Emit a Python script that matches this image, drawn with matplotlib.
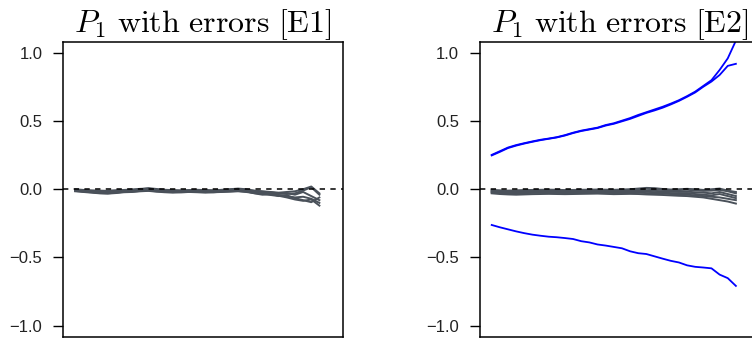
import matplotlib
matplotlib.use("Agg")
import matplotlib.pyplot as plt
import numpy as np

plt.rcParams['font.family'] = ['Liberation Sans', 'DejaVu Sans']
plt.rcParams['mathtext.fontset'] = 'cm'

titles = [r"$P_1\ \mathrm{with\ errors\ [E1]}$", r"$P_1\ \mathrm{with\ errors\ [E2]}$"]
yticks = [-1.0, -0.5, 0.0, 0.5, 1.0]
ytick_labels = ["\u22121.0", "\u22120.5", "0.0", "0.5", "1.0"]

# Panel E1: grey error curves
e1_gray = [
    [-0.005, -0.010, -0.012, -0.015, -0.012, -0.008, -0.005, -0.002, 0.003, 0.005, -0.003, -0.008, -0.010, -0.012, -0.010, -0.008, -0.010, -0.012, -0.008, -0.005, -0.002, -0.005, -0.012, -0.018, -0.022, -0.030, -0.035, -0.030, -0.010, 0.015, -0.040],
    [-0.015, -0.018, -0.022, -0.025, -0.025, -0.022, -0.020, -0.018, -0.012, -0.010, -0.015, -0.018, -0.020, -0.022, -0.020, -0.018, -0.020, -0.022, -0.018, -0.015, -0.012, -0.018, -0.025, -0.030, -0.038, -0.045, -0.052, -0.060, -0.055, -0.070, -0.100],
    [-0.010, -0.015, -0.020, -0.028, -0.030, -0.025, -0.018, -0.012, -0.005, -0.002, -0.008, -0.015, -0.018, -0.015, -0.012, -0.010, -0.015, -0.018, -0.015, -0.010, -0.008, -0.015, -0.030, -0.040, -0.035, -0.048, -0.060, -0.075, -0.085, -0.075, -0.120],
    [-0.008, -0.012, -0.015, -0.020, -0.022, -0.020, -0.015, -0.010, -0.006, -0.004, -0.010, -0.012, -0.014, -0.012, -0.008, -0.006, -0.008, -0.010, -0.008, -0.002, 0.000, -0.008, -0.015, -0.020, -0.028, -0.035, -0.028, -0.040, -0.020, -0.050, -0.080],
    [-0.012, -0.020, -0.025, -0.030, -0.032, -0.028, -0.022, -0.020, -0.015, -0.012, -0.018, -0.022, -0.025, -0.022, -0.020, -0.022, -0.025, -0.022, -0.020, -0.018, -0.015, -0.020, -0.028, -0.035, -0.042, -0.050, -0.045, -0.065, -0.080, -0.095, -0.060],
    [0.000, -0.005, -0.008, -0.010, -0.012, -0.010, -0.008, -0.005, 0.000, 0.008, 0.002, -0.004, -0.006, -0.008, -0.006, -0.004, -0.006, -0.008, -0.004, 0.000, 0.005, 0.000, -0.010, -0.015, -0.020, -0.025, -0.020, -0.015, 0.000, 0.020, -0.030],
]

# Panel E2: grey error curves
e2_gray = [
    [-0.005, -0.008, -0.010, -0.008, -0.006, -0.005, -0.004, -0.003, -0.004, -0.006, -0.005, -0.004, -0.003, -0.002, -0.003, -0.004, -0.002, 0.000, 0.005, 0.010, 0.008, 0.002, -0.002, 0.000, 0.003, 0.000, -0.005, 0.000, 0.005, -0.010, -0.020],
    [-0.015, -0.018, -0.020, -0.018, -0.016, -0.015, -0.014, -0.013, -0.014, -0.016, -0.015, -0.014, -0.013, -0.012, -0.013, -0.014, -0.012, -0.010, -0.008, -0.010, -0.012, -0.015, -0.018, -0.020, -0.018, -0.022, -0.025, -0.030, -0.020, -0.035, -0.050],
    [-0.025, -0.028, -0.030, -0.030, -0.028, -0.027, -0.026, -0.025, -0.026, -0.028, -0.027, -0.026, -0.025, -0.024, -0.026, -0.028, -0.027, -0.026, -0.025, -0.028, -0.030, -0.032, -0.035, -0.038, -0.040, -0.045, -0.050, -0.055, -0.060, -0.070, -0.080],
    [-0.030, -0.035, -0.038, -0.040, -0.038, -0.036, -0.035, -0.034, -0.035, -0.036, -0.035, -0.034, -0.033, -0.032, -0.034, -0.036, -0.035, -0.034, -0.035, -0.038, -0.040, -0.042, -0.045, -0.048, -0.050, -0.055, -0.060, -0.070, -0.080, -0.090, -0.105],
    [-0.010, -0.012, -0.015, -0.013, -0.010, -0.008, -0.008, -0.007, -0.008, -0.010, -0.009, -0.008, -0.006, -0.005, -0.006, -0.008, -0.006, -0.004, 0.000, 0.003, 0.000, -0.005, -0.008, -0.006, -0.004, -0.008, -0.012, -0.010, -0.005, -0.015, -0.030],
    [-0.020, -0.022, -0.025, -0.024, -0.022, -0.020, -0.020, -0.019, -0.020, -0.022, -0.021, -0.020, -0.018, -0.018, -0.020, -0.022, -0.020, -0.018, -0.016, -0.018, -0.022, -0.025, -0.028, -0.030, -0.028, -0.035, -0.040, -0.045, -0.035, -0.050, -0.065],
]

# Panel E2: blue curves
e2_blue_upper_a = [0.252, 0.279, 0.306, 0.324, 0.338, 0.351, 0.363, 0.372, 0.382, 0.397, 0.415, 0.430, 0.441, 0.452, 0.471, 0.484, 0.503, 0.522, 0.545, 0.565, 0.585, 0.605, 0.628, 0.653, 0.683, 0.716, 0.758, 0.800, 0.875, 0.960, 1.090]
e2_blue_upper_b = [0.248, 0.274, 0.302, 0.320, 0.335, 0.348, 0.360, 0.370, 0.380, 0.394, 0.412, 0.427, 0.438, 0.449, 0.467, 0.480, 0.498, 0.516, 0.538, 0.560, 0.578, 0.598, 0.622, 0.648, 0.678, 0.710, 0.752, 0.790, 0.838, 0.905, 0.920]
e2_blue_lower = [-0.262, -0.279, -0.294, -0.309, -0.322, -0.333, -0.341, -0.348, -0.352, -0.358, -0.365, -0.381, -0.390, -0.405, -0.413, -0.423, -0.433, -0.455, -0.469, -0.475, -0.492, -0.509, -0.525, -0.537, -0.558, -0.569, -0.574, -0.580, -0.626, -0.652, -0.709]

gray_color = "#4a515a"
blue_color = "#0000ff"

W, H = 752, 343
fig = plt.figure(figsize=(W / 100, H / 100), dpi=100)
ax1 = fig.add_axes([63 / W, 6.5 / H, 280 / W, 294.5 / H])
ax2 = fig.add_axes([479.5 / W, 6.5 / H, 280 / W, 294.5 / H])

panels = [
    (ax1, e1_gray, []),
    (ax2, e2_gray, [e2_blue_upper_a, e2_blue_upper_b, e2_blue_lower]),
]

for i, (ax, grays, blues) in enumerate(panels):
    for g in grays:
        ax.plot(np.arange(len(g)), g, color=gray_color, lw=1.4)
    for b in blues:
        ax.plot(np.arange(len(b)), b, color=blue_color, lw=1.3)
    ax.axhline(0.0, color="black", lw=1.1, ls=(0, (3.5, 3.5)))
    ax.set_xlim(-1.5, 32.9)
    ax.set_ylim(-1.08, 1.08)
    ax.set_xticks([])
    ax.set_yticks(yticks)
    ax.set_yticklabels(ytick_labels)
    ax.tick_params(axis="y", direction="out", length=7.2, width=1.0, pad=7.6, labelsize=12, labelcolor="#222222")
    for s in ax.spines.values():
        s.set_linewidth(1.1)
        s.set_color("black")
    ax.set_title(titles[i], fontsize=23, pad=3)

fig.savefig("out.png", dpi=100)
